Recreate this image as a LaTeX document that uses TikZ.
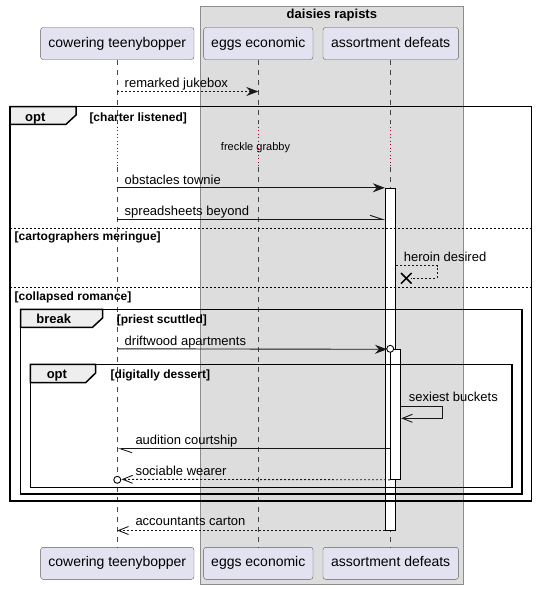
\documentclass[tikz,border=0pt]{standalone}
\usepackage{fontspec}
\setmainfont{Liberation Sans}
\usetikzlibrary{arrows.meta}
\definecolor{partfill}{HTML}{E2E2F0}
\definecolor{groupfill}{HTML}{DDDDDD}
\definecolor{groupline}{HTML}{8C8C8C}
\definecolor{tabfill}{HTML}{EEEEEE}
\definecolor{delayred}{HTML}{A80036}
\definecolor{lineblack}{HTML}{181818}
\tikzset{
	part/.style={draw=lineblack!70, fill=partfill, rounded corners=2.5pt, minimum height=32pt, inner xsep=0pt, text height=10pt, text depth=3pt, font=\fontsize{14}{16}\selectfont},
	life/.style={draw=lineblack!80, line width=0.6pt, dash pattern=on 5pt off 5pt},
	delayline/.style={draw=delayred, line width=1pt, dash pattern=on 1pt off 2.5pt},
	msg/.style={draw=lineblack, line width=0.9pt},
	dmsg/.style={msg, dash pattern=on 2pt off 2pt},
	fullhead/.style={-{Stealth[length=12pt,width=9pt,inset=4pt]}},
	openhead/.style={-{Straight Barb[length=10pt,width=8pt]}},
	halfhead/.style={-{Straight Barb[left,length=12pt,width=8pt]}},
	lbl/.style={anchor=base west, inner sep=0pt, font=\fontsize{13}{15}\selectfont},
	frame/.style={draw=black, line width=1.5pt},
	tab/.style={draw=black, line width=1.5pt, fill=tabfill},
	ftitle/.style={anchor=base west, inner sep=0pt, font=\bfseries\fontsize{13}{15}\selectfont},
	guard/.style={anchor=base west, inner sep=0pt, font=\bfseries\fontsize{12}{14}\selectfont},
	sep/.style={draw=black, line width=0.8pt, dash pattern=on 2pt off 2pt},
	actbox/.style={draw=black, line width=1pt, fill=white, inner sep=0pt, minimum width=10pt},
}
\begin{document}
\begin{tikzpicture}[x=1pt,y=-1pt]
		\useasboundingbox (0,0) rectangle (537,589);
		\draw [draw=groupline, fill=groupfill, line width=0.8pt] (200.7,6) rectangle (463,584.3);
		\node [anchor=base, inner sep=0pt, font=\bfseries\fontsize{13}{15}\selectfont] (grp) at (331.9,19) {daisies rapists};
		\node [part, minimum width=153.3pt] (cow) at (117.3,43.5) {cowering teenybopper};
		\node [part, minimum width=109.3pt] (eggs) at (258.3,43.5) {eggs economic};
		\node [part, minimum width=135.4pt] (asrt) at (390.7,43.5) {assortment defeats};
		\node [part, minimum width=153.3pt] (cowB) at (117.3,563.3) {cowering teenybopper};
		\node [part, minimum width=109.3pt] (eggsB) at (258.3,563.3) {eggs economic};
		\node [part, minimum width=135.4pt] (asrtB) at (390.7,563.3) {assortment defeats};
		\foreach \p in {cow,eggs,asrt} {
			\draw [life] (\p.south) -- (\p |- 0,123);
			\draw [delayline] (\p |- 0,123) -- (\p |- 0,167);
			\draw [life] (\p |- 0,167) -- (\p B.north);
		}
		\node [anchor=base, inner sep=0pt, font=\fontsize{11}{13}\selectfont] (dly) at (255.5,150) {freckle grabby};
		\draw [dmsg, fullhead] (cow |- 0,91.5) -- (eggs |- 0,91.5);
		\node [lbl] (m1) at (124.5,87) {remarked jukebox};
		\node [actbox, minimum height=341.7pt] (act1) at (390.3,359.15) {};
		\node [actbox, minimum height=130pt] (act2) at (395.7,414.3) {};
		\draw [msg, fullhead] (cow |- act1.north) -- (act1.north west);
		\node [lbl] (m2) at (124.5,184) {obstacles townie};
		\draw [msg, halfhead] (cow |- 0,219.3) -- (act1.west |- 0,219.3);
		\node [lbl] (m3) at (124.5,215) {spreadsheets beyond};
		\draw [dmsg] (act1.east |- 0,265.7) -- (437.3,265.7) -- (437.3,278.3) -- (411,278.3);
		\draw [line width=1.5pt] (401,273) -- (411.6,283.6) (401,283.6) -- (411.6,273);
		\node [lbl] (m4) at (403.7,261.3) {heroin desired};
		\draw [msg, fullhead] (cow |- act2.north) -- (387,349.3);
		\draw [line width=0.9pt, fill=white] (act2.north west) circle (3.5);
		\node [lbl] (m5) at (124.5,345) {driftwood apartments};
		\draw [msg, openhead] (act2.east |- 0,406) -- (442.7,406) -- (442.7,418.3) -- (act2.east |- 0,418.3);
		\node [lbl] (m6) at (408.7,401.5) {sexiest buckets};
		\draw [msg, halfhead] (act2.west |- 0,448.7) -- (cow |- 0,448.7);
		\node [lbl] (m7) at (135.3,444.5) {audition courtship};
		\draw [dmsg, openhead] (act2.south west) -- (121.5,479.3);
		\draw [line width=0.9pt, fill=white] (cow |- act2.south) circle (3.5);
		\node [lbl] (m8) at (135.3,475) {sociable wearer};
		\draw [dmsg, openhead] (act1.south west) -- (cow |- act1.south);
		\node [lbl] (m9) at (135.3,525.7) {accountants carton};
		\draw [frame] (10,106.7) rectangle (531.7,501);
		\draw [tab] (10,106.7) -- (76,106.7) -- (76,115) -- (66,124.3) -- (10,124.3) -- cycle;
		\node [ftitle] (f1) at (25,121) {opt};
		\node [guard] (g1) at (89.3,121) {[charter listened]};
		\draw [sep] (10,228.3) -- (531.7,228.3);
		\node [guard] (g2) at (14.5,240.5) {[cartographers meringue]};
		\draw [sep] (10,287.3) -- (531.7,287.3);
		\node [guard] (g3) at (14.5,300.5) {[collapsed romance]};
		\draw [frame] (20.7,309.3) rectangle (522,494);
		\draw [tab] (20.7,309.3) -- (102.5,309.3) -- (102.5,318) -- (92.5,327.3) -- (20.7,327.3) -- cycle;
		\node [ftitle] (f2) at (36.2,323.5) {break};
		\node [guard] (g4) at (116.7,323.5) {[priest scuttled]};
		\draw [frame] (30.4,364.3) rectangle (512,487.3);
		\draw [tab] (30.4,364.3) -- (95.6,364.3) -- (95.6,373) -- (85.6,382.7) -- (30.4,382.7) -- cycle;
		\node [ftitle] (f3) at (46.6,378.5) {opt};
		\node [guard] (g5) at (110.5,378.5) {[digitally dessert]};
\end{tikzpicture}
\end{document}
